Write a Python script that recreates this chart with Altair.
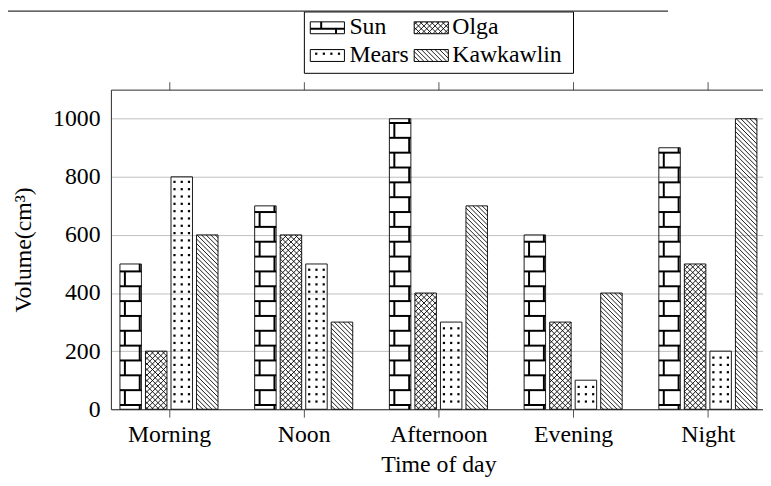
import math
import json
import altair as alt
import pandas as pd

# ---------------- data ----------------
categories = ["Morning", "Noon", "Afternoon", "Evening", "Night"]
series_names = ["Sun", "Olga", "Mears", "Kawkawlin"]
sun_values = [500, 700, 1000, 600, 900]
olga_values = [200, 600, 400, 300, 500]
mears_values = [800, 500, 300, 100, 200]
kawkawlin_values = [600, 300, 700, 400, 1000]
y_tick_values = [0, 200, 400, 600, 800, 1000]
x_title = "Time of day"
y_title = "Volume(cm³)"

series_values = [sun_values, olga_values, mears_values, kawkawlin_values]
series_patterns = ["bricks", "crosshatch", "dots", "nwlines"]

# ---------------- layout / style ----------------
FONT = "'Liberation Serif', 'DejaVu Serif', serif"
FS = 24
W, H = 659, 323
PAD = {"left": 104, "top": 80, "right": 0, "bottom": 70}
KX = 136.15                      # px per category unit
XMIN = -0.431
XMAX = XMIN + W / KX
YMAX = 1100
KY = H / YMAX                    # px per value unit
BAR_STEP = 25.8 / KX
BAR_HALF = 21.7 / 2 / KX


def dx(p):
    return XMIN + p / KX


def dy(p):
    return (H - p) / KY


def px(x):
    return (x - XMIN) * KX


def py(v):
    return H - v * KY


def page(xp, yp):
    return xp - (PAD["left"] + 8), yp - (PAD["top"] + 8)


thin, thick, dots = [], [], []


def hatch(x0, y0, x1, y1, s, direction):
    segs = []
    if direction == 1:      # "\"  y = x + c
        cmin, cmax = y0 - x1, y1 - x0
        for k in range(math.floor(cmin / s), math.ceil(cmax / s) + 1):
            c = k * s
            lo, hi = max(x0, y0 - c), min(x1, y1 - c)
            if hi - lo > 0.4:
                segs.append((lo, lo + c, hi, hi + c))
    else:                   # "/"  y = c - x
        cmin, cmax = x0 + y0, x1 + y1
        for k in range(math.floor(cmin / s), math.ceil(cmax / s) + 1):
            c = k * s
            lo, hi = max(x0, c - y1), min(x1, c - y0)
            if hi - lo > 0.4:
                segs.append((lo, c - lo, hi, c - hi))
    return segs


def add_pattern(kind, x0, y0, x1, y1, swatch=False):
    if kind == "nwlines":
        thin.extend(hatch(x0, y0, x1, y1, 4.6, 1))
    elif kind == "crosshatch":
        thin.extend(hatch(x0, y0, x1, y1, 5.6, 1))
        thin.extend(hatch(x0, y0, x1, y1, 5.6, -1))
    elif kind == "dots":
        if swatch:
            cols = [x0 + o for o in (6, 13.7, 21.3, 29)]
            base, step = y0 + 4.2, 7.6
        else:
            c = (x0 + x1) / 2
            cols = [c - 7.33, c, c + 7.33]
            base, step = H - 7.8, 7.4
        for n in range(math.floor((base - y1) / step) - 1, math.ceil((base - y0) / step) + 2):
            yy = base - n * step
            if y0 + 1.0 <= yy <= y1 - 1.0:
                for cx in cols:
                    dots.append((cx, yy))
    elif kind == "bricks":
        if swatch:
            base, joff = y1 - 5.0, 11
        else:
            base, joff = H - 4.3, 5
        rh = 15
        nmin = math.ceil((base - y1) / rh)
        nmax = math.floor((base - y0) / rh)
        for n in range(nmin, nmax + 1):
            yy = base - n * rh
            thick.append((x0, yy, x1, yy))
        for n in range(nmin - 1, nmax + 1):
            yb = min(y1, base - n * rh)
            yt = max(y0, base - (n + 1) * rh)
            if yb - yt <= 0.5:
                continue
            jx = x0 + (joff if n % 2 == 0 else joff + 15)
            if x0 + 0.5 < jx < x1 - 0.5:
                thick.append((jx, yt, jx, yb))


# bars
bar_rows = []
for k, (name, vals, pat) in enumerate(zip(series_names, series_values, series_patterns)):
    for i, (cat, v) in enumerate(zip(categories, vals)):
        xc = i + (k - 1.5) * BAR_STEP
        x0, x1 = xc - BAR_HALF, xc + BAR_HALF
        bar_rows.append({"category": cat, "series": name, "value": v,
                         "x0": x0, "x1": x1, "base": 0})
        add_pattern(pat, px(x0), py(v), px(x1), py(0))
bars_df = pd.DataFrame(bar_rows)

# legend (page pixel geometry)
legend_rects = []
legend_texts = []
bx0, by0 = page(307.5, 9.5)
bx1, by1 = page(579.5, 71.5)
legend_rects.append((bx0, by0, bx1, by1))
slots = [(313.5, 19.5, 353), (418.5, 19.5, 457), (313.5, 47.5, 353), (418.5, 47.5, 457)]
for (sx, sy, tx), name, pat in zip(slots, series_names, series_patterns):
    x0, y0 = page(sx, sy)
    x1, y1 = page(sx + 34.5, sy + 12)
    add_pattern(pat, x0, y0, x1, y1, swatch=True)
    legend_rects.append((x0, y0, x1, y1))
    tpx, tpy = page(tx, sy + 12.5)
    legend_texts.append({"x": dx(tpx), "y": dy(tpy), "label": name})

# cropped table border at the very top
frame = []
fx0, fy = page(8, 8.6)
fx1, _ = page(675, 8.6)
frame.append((fx0, fy, fx1, fy))


def seg_df(segs):
    return pd.DataFrame([{"x": dx(a), "y": dy(b), "x2": dx(c), "y2": dy(d)} for a, b, c, d in segs])


thin_df = seg_df(thin)
thick_df = seg_df(thick)
frame_df = seg_df(frame)
rect_df = seg_df(legend_rects)
dots_df = pd.DataFrame([{"x": dx(a), "y": dy(b)} for a, b in dots])
text_df = pd.DataFrame(legend_texts)

xscale = alt.Scale(domain=[XMIN, XMAX], nice=False, zero=False)
yscale = alt.Scale(domain=[0, YMAX], nice=False, zero=False)

bottom_axis = alt.Axis(
    values=list(range(len(categories))),
    labelExpr=json.dumps(categories) + "[datum.value]",
    ticks=True, tickSize=8, tickWidth=1, tickOpacity=1, tickColor="#555555",
    domainColor="#2a2a2a",
    labelFont=FONT, labelFontSize=FS, labelColor="black", labelPadding=25,
    labelBaseline="alphabetic", labelFlush=False, labelOverlap=False, grid=False,
    title=x_title, titleFont=FONT, titleFontSize=FS, titleFontWeight="normal",
    titleColor="black", titleBaseline="alphabetic", titleY=63, titleX=331,
)
top_axis = alt.Axis(
    orient="top", values=list(range(len(categories))), labels=False,
    ticks=True, tickSize=8, tickWidth=1, tickOpacity=1, tickColor="#555555",
    domainColor="#2a2a2a", grid=False, title=None,
)
left_axis = alt.Axis(
    values=y_tick_values, format="d", grid=True, gridColor="#bfbfbf", gridWidth=1,
    ticks=False, tickSize=0, domainColor="#2a2a2a",
    labelFont=FONT, labelFontSize=FS, labelColor="black", labelPadding=11,
    title=y_title, titleFont=FONT, titleFontSize=FS, titleFontWeight="normal",
    titleColor="black", titleBaseline="alphabetic", titleX=-81,
)

bars = alt.Chart(bars_df).mark_rect(fillOpacity=0, stroke="#1a1a1a", strokeWidth=1).encode(
    x=alt.X("x0:Q", scale=xscale, axis=bottom_axis),
    x2="x1:Q",
    y=alt.Y("value:Q", scale=yscale, axis=left_axis),
    y2="base:Q",
    tooltip=["category", "series", "value"],
)

thin_layer = alt.Chart(thin_df).mark_rule(color="black", strokeWidth=0.9).encode(
    x=alt.X("x:Q", scale=xscale, axis=top_axis), x2="x2:Q",
    y=alt.Y("y:Q", scale=yscale, axis=None), y2="y2:Q",
)
thick_layer = alt.Chart(thick_df).mark_rule(color="black", strokeWidth=2).encode(
    x=alt.X("x:Q", scale=xscale, axis=None), x2="x2:Q",
    y=alt.Y("y:Q", scale=yscale, axis=None), y2="y2:Q",
)
dots_layer = alt.Chart(dots_df).mark_square(size=5, color="black", opacity=1).encode(
    x=alt.X("x:Q", scale=xscale, axis=None),
    y=alt.Y("y:Q", scale=yscale, axis=None),
)
rect_layer = alt.Chart(rect_df).mark_rect(fillOpacity=0, stroke="black", strokeWidth=1).encode(
    x=alt.X("x:Q", scale=xscale, axis=None), x2="x2:Q",
    y=alt.Y("y:Q", scale=yscale, axis=None), y2="y2:Q",
)
frame_layer = alt.Chart(frame_df).mark_rule(color="#333333", strokeWidth=1.2).encode(
    x=alt.X("x:Q", scale=xscale, axis=None), x2="x2:Q",
    y=alt.Y("y:Q", scale=yscale, axis=None), y2="y2:Q",
)
text_layer = alt.Chart(text_df).mark_text(
    align="left", baseline="alphabetic", font=FONT, fontSize=FS, color="black"
).encode(
    x=alt.X("x:Q", scale=xscale, axis=None),
    y=alt.Y("y:Q", scale=yscale, axis=None),
    text="label:N",
)

chart = alt.layer(
    bars, thin_layer, thick_layer, dots_layer, rect_layer, frame_layer, text_layer
).resolve_axis(x="independent", y="independent").properties(
    width=W, height=H, padding=PAD, autosize=alt.AutoSizeParams(type="none"),
    background="white",
).configure_view(strokeWidth=0)

chart.save("out.html", embed_options={"renderer": "svg", "actions": False})
